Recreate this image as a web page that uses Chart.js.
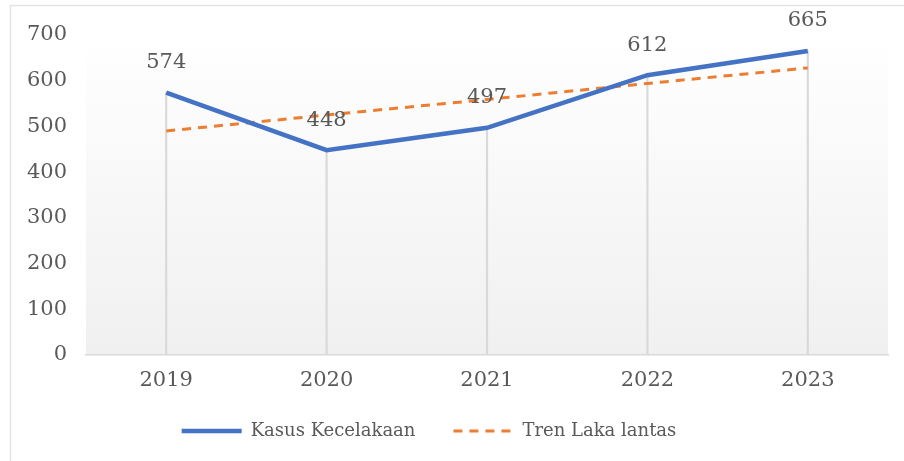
<!DOCTYPE html>
<html>
<head>
<meta charset="utf-8">
<script src="https://cdn.jsdelivr.net/npm/chart.js@4"></script>
<style>
  html, body { margin: 0; padding: 0; background: #fff; }
  #wrap { width: 904px; height: 461px; }
</style>
</head>
<body>
<div id="wrap"><canvas id="line-chart" width="904" height="461"></canvas></div>
<script>
// data
tahun = ['2019', '2020', '2021', '2022', '2023']
kasus = [574, 448, 497, 612, 665]
tren = [490, 525, 559, 594, 628]
yTicks = [0, 100, 200, 300, 400, 500, 600, 700]

var fontSerif = "'DejaVu Serif', 'Liberation Serif', serif"
var abu = '#595959'

// frame + gradient behind the plot area
var latar = {
    id: 'latar',
    beforeDraw: function (chart) {
        var ctx = chart.ctx
        var a = chart.chartArea
        ctx.save()
        ctx.fillStyle = '#ffffff'
        ctx.fillRect(0, 0, chart.width, chart.height)
        ctx.strokeStyle = '#e3e3e3'
        ctx.lineWidth = 1.5
        ctx.strokeRect(10.5, 5.5, chart.width, chart.height)
        var g = ctx.createLinearGradient(0, a.top, 0, a.bottom)
        g.addColorStop(0, '#ffffff')
        g.addColorStop(1, '#f0f0f0')
        ctx.fillStyle = g
        ctx.fillRect(a.left, a.top, a.right - a.left, a.bottom - a.top)
        ctx.restore()
    }
}

// legend: fixed height, a bit higher and left of centre, like the original
var aturLegend = {
    id: 'aturLegend',
    beforeLayout: function (chart) {
        var leg = chart.legend
        if (leg && !leg._dipatch) {
            var asli = leg.fit
            leg.fit = function () {
                asli.call(this)
                this.height = 68
            }
            leg._dipatch = true
        }
    },
    afterLayout: function (chart) {
        var leg = chart.legend
        if (!leg) return
        leg.right -= 30
        leg.top -= 9
        leg.bottom -= 9
    }
}

// value labels above the blue line
var labelNilai = {
    id: 'labelNilai',
    afterDatasetsDraw: function (chart) {
        var ctx = chart.ctx
        var meta = chart.getDatasetMeta(0)
        ctx.save()
        ctx.font = '21px ' + fontSerif
        ctx.fillStyle = abu
        ctx.textAlign = 'center'
        ctx.textBaseline = 'middle'
        meta.data.forEach(function (pt, i) {
            ctx.fillText(String(kasus[i]), pt.x, pt.y - 30)
        })
        ctx.restore()
    }
}

new Chart(document.getElementById('line-chart'), {
    data: {
        labels: tahun,
        datasets: [{
            type: 'line',
            label: 'Kasus Kecelakaan',
            data: kasus,
            borderColor: '#4472C4',
            backgroundColor: '#4472C4',
            borderWidth: 4.5,
            pointRadius: 0,
            tension: 0,
            order: 1
        }, {
            type: 'line',
            label: 'Tren Laka lantas',
            data: tren,
            borderColor: '#ED7D31',
            backgroundColor: '#ED7D31',
            borderWidth: 3,
            borderDash: [9, 7],
            pointRadius: 0,
            tension: 0,
            order: 2
        }, {
            // drop lines from each point to the axis
            type: 'bar',
            label: 'drop',
            data: kasus,
            backgroundColor: '#d9d9d9',
            barThickness: 1.5,
            order: 3
        }]
    },
    options: {
        responsive: false,
        animation: false,
        layout: { padding: { left: 0, right: 16, top: 35, bottom: 0 } },
        plugins: {
            tooltip: { enabled: false },
            legend: {
                position: 'bottom',
                labels: {
                    generateLabels: function (chart) {
                        var items = Chart.defaults.plugins.legend.labels.generateLabels(chart)
                        return items.filter(function (it) { return it.datasetIndex !== 2 }).map(function (it) {
                            var ds = chart.data.datasets[it.datasetIndex]
                            it.lineDash = ds.borderDash || []
                            it.lineWidth = ds.borderWidth
                            it.strokeStyle = ds.borderColor
                            it.lineCap = 'butt'
                            return it
                        })
                    },
                    usePointStyle: true,
                    pointStyle: 'line',
                    pointStyleWidth: 60,
                    padding: 38,
                    color: abu,
                    font: { family: fontSerif, size: 18 }
                }
            }
        },
        scales: {
            x: {
                afterFit: function (s) { s.height = 38 },
                grid: { display: false, drawTicks: false },
                border: { color: '#d9d9d9', width: 1.5 },
                ticks: { color: abu, padding: 13, font: { family: fontSerif, size: 21 } }
            },
            y: {
                min: 0,
                max: 700,
                afterBuildTicks: function (s) { s.ticks = yTicks.map(function (v) { return { value: v } }) },
                afterFit: function (s) { s.width = 86 },
                grid: { display: false, drawTicks: false },
                border: { display: false },
                ticks: { color: abu, padding: 19, font: { family: fontSerif, size: 21 } }
            }
        }
    },
    plugins: [latar, aturLegend, labelNilai]
});
</script>
</body>
</html>
